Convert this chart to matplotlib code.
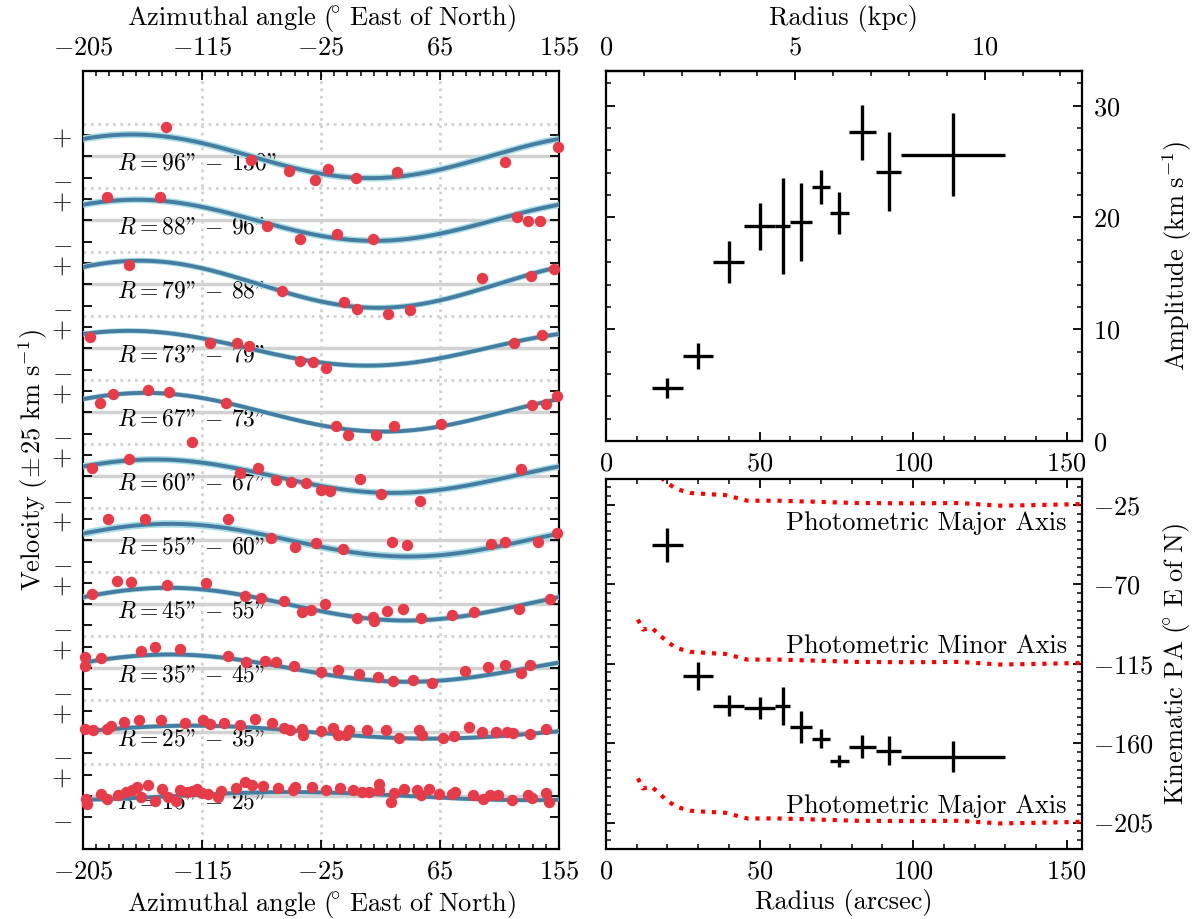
import numpy as np
import matplotlib
matplotlib.use("Agg")
import matplotlib.pyplot as plt
from matplotlib.ticker import FixedLocator, MultipleLocator

plt.rcParams["font.family"] = "serif"
plt.rcParams["font.serif"] = ["cmr10"]
plt.rcParams["mathtext.fontset"] = "cm"
plt.rcParams["axes.unicode_minus"] = False
plt.rcParams["axes.formatter.use_mathtext"] = True
plt.rcParams["font.size"] = 19

# ring bins (arcsec) and fitted harmonic parameters
ring_lo = [15, 25, 35, 45, 55, 60, 67, 73, 79, 88, 96]
ring_hi = [25, 35, 45, 55, 60, 67, 73, 79, 88, 96, 130]
radius = [20, 30, 40, 50, 57.5, 63.5, 70, 76, 83.5, 92, 113]
amp = [4.75, 7.6, 16.0, 19.2, 19.2, 19.6, 22.7, 20.4, 27.6, 24.1, 25.6]
amp_err = [0.9, 1.2, 1.9, 2.1, 4.3, 3.5, 1.5, 1.85, 2.45, 3.5, 3.7]
pa = [-47.7, -122.0, -138.8, -140.3, -138.8, -150.7, -157.5, -170.0, -162.0, -164.3, -167.7]
pa_err = [9.5, 8.2, 5.9, 6.3, 10.7, 9.0, 5.2, 3.3, 6.3, 8.3, 8.8]

# photometric major axis PA vs radius
phot_r = [10.4, 12.0, 14.9, 19.7, 22.9, 27.4, 32.5, 38.9, 46.0, 55.7, 68.5, 81.4,
          100.0, 114.8, 128.3, 139.2, 155.0]
phot_pa = [0.0, -5.7, -4.7, -12.3, -16.1, -18.3, -18.9, -19.5, -22.7, -22.7, -23.3,
           -24.0, -24.2, -24.0, -25.5, -25.2, -24.6]

# azimuthal velocity samples per ring (deg, km/s about ring systemic)
az_15_25 = [-203.0, -202.1, -191.4, -187.0, -178.9, -172.5, -168.2, -164.4, -160.9, -155.7,
            -150.8, -145.0, -140.7, -134.9, -132.0, -126.7, -122.4, -118.9, -115.1, -110.2,
            -103.0, -100.7, -89.3, -82.7, -76.9, -68.8, -57.5, -46.4, -44.4, -32.0,
            -21.2, -10.8, -0.9, 5.7, 11.5, 18.8, 18.8, 28.0, 30.4, 37.6,
            47.8, 50.7, 56.4, 64.3, 73.8, 76.2, 89.8, 97.6, 102.8, 108.6,
            119.6, 131.8, 134.7, 144.9, 147.8]
vel_15_25 = [-3.1, -9.8, 2.0, -3.1, 1.6, 4.7, 6.7, 10.6, -1.2, 12.6,
             -5.9, 7.9, -1.2, -5.9, 7.5, 4.7, 5.9, 8.3, 3.5, 2.0,
             -1.2, 5.9, 9.8, 16.5, 12.6, 11.8, 9.8, 6.7, 10.6, 10.6,
             6.7, 9.4, 6.7, 4.7, 4.7, 13.8, 6.7, -7.1, 3.5, 7.9,
             6.7, 1.6, 7.9, 2.8, 2.8, 4.7, 1.6, -3.9, 1.6, 1.6,
             -5.1, 1.6, -2.4, 3.5, -7.1]
az_25_35 = [-203.8, -197.2, -187.0, -183.6, -174.0, -162.4, -145.9, -128.2, -114.0, -108.8,
            -98.0, -86.4, -74.6, -61.8, -53.1, -48.8, -39.2, -38.6, -25.3, -16.0,
            -12.5, -5.9, -3.8, 9.5, 24.0, 34.1, 49.2, 51.2, 67.2, 75.9,
            86.9, 96.4, 107.2, 115.9, 120.2, 133.3, 144.9]
vel_25_35 = [3.1, 2.8, 3.9, 6.7, 11.8, 13.8, 13.8, 11.0, 14.6, 9.8,
             10.6, 7.9, 14.9, 11.0, 5.1, 2.8, 3.9, -2.8, 1.2, 4.7,
             -3.1, -3.9, 2.0, 2.8, 2.0, -7.1, 2.0, -3.9, -6.7, -5.1,
             5.9, 0.0, 0.0, 0.0, -1.2, -2.0, 3.9]
az_35_45 = [-203.8, -203.8, -191.4, -161.5, -150.8, -132.0, -95.1, -82.1, -67.6, -58.9,
            -45.6, -25.3, -12.5, 3.4, 18.2, 29.8, 44.3, 59.3, 84.0, 101.4,
            113.8, 126.6, 133.3]
vel_35_45 = [12.6, 2.8, 11.8, 19.7, 24.8, 22.8, 14.6, 6.7, 7.9, 6.7,
             2.8, -4.3, -2.0, -6.3, -10.2, -15.0, -14.2, -16.9, -3.9, 0.8,
             3.9, -5.9, 3.5]
az_45_55 = [-198.0, -179.2, -168.8, -141.5, -112.2, -82.7, -70.5, -52.8, -39.2, -32.8,
            -21.8, 2.0, 14.4, 15.3, 24.6, 36.7, 50.7, 73.8, 90.4, 125.1, 148.3]
vel_45_55 = [11.8, 26.8, 26.4, 22.4, 24.4, 9.8, 7.1, 3.9, -8.7, -6.7,
             0.0, -15.7, -15.0, -19.7, -7.9, -5.1, -15.7, -12.6, -8.7, -5.9, 5.9]
az_55_60 = [-186.2, -158.0, -95.7, -63.0, -45.0, -29.1, -8.2, 28.9, 39.9, 103.7,
            114.4, 139.1, 153.6]
vel_55_60 = [24.8, 24.8, 24.8, 3.1, -7.9, -2.8, -10.6, -2.0, -5.9, -4.7,
             -1.6, -1.6, 7.9]
az_60_67 = [-198.0, -170.2, -86.4, -72.5, -58.9, -47.9, -36.3, -25.3, -18.3, 4.3,
            20.2, 50.1, 126.0]
vel_60_67 = [9.8, 19.7, 4.3, 10.2, -3.9, -6.7, -7.9, -16.5, -17.7, -3.1,
             -20.5, -28.7, 8.7]
az_67_73 = [-192.2, -182.1, -156.0, -139.8, -122.7, -97.2, -13.7, -4.4, 16.7, 30.4,
            66.0, 134.7, 145.4, 153.6]
vel_67_73 = [10.6, 21.7, 25.6, 23.2, -34.6, 11.4, -15.7, -26.4, -26.4, -15.7,
             -13.8, 7.9, 9.8, 18.5]
az_73_79 = [-199.5, -109.3, -88.5, -79.8, -41.2, -31.4, -21.0, 120.8, 142.0]
vel_73_79 = [13.0, 6.3, 6.3, 3.1, -14.6, -16.5, -22.8, 6.3, 15.7]
az_79_88 = [-170.2, -54.3, -7.9, 1.9, 26.0, 42.0, 96.4, 134.1, 151.2]
vel_79_88 = [22.8, -7.5, -21.3, -29.1, -34.3, -30.3, 7.9, 10.2, 18.1]
az_88_96 = [-187.0, -147.0, -65.9, -40.7, -13.1, 14.4, 123.1, 131.8, 140.5]
vel_88_96 = [27.6, 27.6, -7.1, -22.4, -16.5, -22.4, 3.9, -0.8, -0.8]
az_96_130 = [-142.1, -78.3, -49.3, -29.9, -19.8, 1.3, 32.4, 113.8, 154.1]
vel_96_130 = [34.6, -3.9, -17.3, -28.3, -14.6, -25.6, -18.1, -6.7, 11.0]

ring_az = [az_15_25, az_25_35, az_35_45, az_45_55, az_55_60, az_60_67,
           az_67_73, az_73_79, az_79_88, az_88_96, az_96_130]
ring_vel = [vel_15_25, vel_25_35, vel_35_45, vel_45_55, vel_55_60, vel_60_67,
            vel_67_73, vel_73_79, vel_79_88, vel_88_96, vel_96_130]

spacing = 75.0
red = "#e63c49"
blue = "#457ca1"
halo = "#a9dde3"
grey = "#d2d2d2"

az_label = r"$\mathrm{Azimuthal\ angle\ (\!{}^{\circ}\ East\ of\ North)}$"

fig = plt.figure(figsize=(11.99, 9.19), dpi=100)
W, H = 1199.0, 919.0
ax = fig.add_axes([83 / W, 1 - 849 / H, 476 / W, 778 / H])
ax_amp = fig.add_axes([606 / W, 1 - 441 / H, 476 / W, 370 / H])
ax_pa = fig.add_axes([606 / W, 1 - 849 / H, 476 / W, 370 / H])

tick_kw = dict(direction="in", width=1.3, pad=8)


def style(a):
    for s in a.spines.values():
        s.set_linewidth(1.6)
    a.tick_params(which="major", length=6.5, **tick_kw)
    a.tick_params(which="minor", length=3.8, direction="in", width=1.1)


# ---- left panel: velocity vs azimuth ----
theta = np.linspace(-205, 155, 500)
yt, yl = [], []
for i in range(len(radius)):
    c = i * spacing
    ax.axhline(c, color=grey, lw=2.5, zorder=1)
    ax.axhline(c + spacing / 2, color=grey, lw=2, ls=":", zorder=1)
    model = amp[i] * np.cos(np.radians(theta - pa[i]))
    ax.plot(theta, model + c, color=halo, lw=2.8 + 0.6 * amp_err[i], zorder=3,
            solid_capstyle="butt")
    ax.plot(theta, model + c, color=blue, lw=2.8, zorder=4)
    ax.plot(ring_az[i], np.array(ring_vel[i]) + c, "o", color=red, ms=8.2,
            mec="none", zorder=5, clip_on=False)
    # cmr10 keeps the TeX layout: '"' is the closing double quote glyph
    ax.text(-179, c - 8, '$R = %s$" $-$ %s"' % (ring_lo[i], ring_hi[i]),
            fontsize=17, ha="left", va="center", zorder=2.5)
    yt += [c - 25, c, c + 25]
    yl += ["$-$", "", "$+$"]

for x in [-115, -25, 65]:
    ax.axvline(x, color=grey, lw=2, ls=":", zorder=1)

ax.set_xlim(-205, 155)
ax.set_ylim(-62, 10 * spacing + 100)
xt = [-205, -115, -25, 65, 155]
ax.xaxis.set_major_locator(FixedLocator(xt))
ax.set_xticklabels(["$%d$" % v for v in xt])
ax.xaxis.set_minor_locator(FixedLocator(np.arange(-205, 156, 10)))
ax.yaxis.set_major_locator(FixedLocator(yt))
ax.set_yticklabels(yl)
style(ax)
ax.tick_params(top=True, right=True, labeltop=True, which="both")
ax.set_xlabel(az_label)
sec = ax.secondary_xaxis("top")
sec.set_xticks([])
sec.set_xlabel(az_label, labelpad=33)
ax.set_ylabel(r"$\mathrm{Velocity\ (\pm\,25\ km\ s^{-1})}$")
ax.yaxis.set_label_coords(-0.07, 0.5)

xerr = [np.array(radius) - np.array(ring_lo), np.array(ring_hi) - np.array(radius)]

# ---- top right: amplitude ----
ax_amp.errorbar(radius, amp, xerr=xerr, yerr=amp_err, fmt="none", ecolor="black",
                elinewidth=2.4, capsize=0)
ax_amp.set_xlim(0, 155)
ax_amp.set_ylim(0, 33.1)
ax_amp.xaxis.set_major_locator(MultipleLocator(50))
ax_amp.xaxis.set_minor_locator(MultipleLocator(10))
ax_amp.yaxis.set_major_locator(MultipleLocator(10))
ax_amp.yaxis.set_minor_locator(MultipleLocator(2))
style(ax_amp)
ax_amp.tick_params(which="both", left=True, right=True, labelleft=False,
                   labelright=True, top=False)
ax_amp.yaxis.set_label_position("right")
ax_amp.set_ylabel(r"$\mathrm{Amplitude\ (km\ s^{-1})}$")
ax_amp.yaxis.set_label_coords(1.165, 0.5)
kpc = ax_amp.secondary_xaxis("top", functions=(lambda r: r / 12.33, lambda k: k * 12.33))
kpc.xaxis.set_major_locator(FixedLocator([0, 5, 10]))
kpc.xaxis.set_minor_locator(MultipleLocator(1))
kpc.tick_params(which="major", length=6.5, **tick_kw)
kpc.tick_params(which="minor", length=3.8, direction="in", width=1.1)
kpc.spines["top"].set_linewidth(1.6)
kpc.set_xlabel("Radius (kpc)", labelpad=8)

# ---- bottom right: kinematic PA ----
ax_pa.errorbar(radius, pa, xerr=xerr, yerr=pa_err, fmt="none", ecolor="black",
               elinewidth=2.4, capsize=0)
for shift in [0, -90, -180]:
    ax_pa.plot(phot_r, np.array(phot_pa) + shift, color="red", ls=":", lw=3)
ax_pa.text(150, -35.4, "Photometric Major Axis", ha="right", va="center")
ax_pa.text(150, -105.3, "Photometric Minor Axis", ha="right", va="center")
ax_pa.text(150, -195.7, "Photometric Major Axis", ha="right", va="center")
ax_pa.set_xlim(0, 155)
ax_pa.set_ylim(-220, -10.4)
ax_pa.xaxis.set_major_locator(MultipleLocator(50))
ax_pa.xaxis.set_minor_locator(MultipleLocator(10))
pt = [-205, -160, -115, -70, -25]
ax_pa.yaxis.set_major_locator(FixedLocator(pt))
ax_pa.set_yticklabels(["$%d$" % v for v in pt])
ax_pa.yaxis.set_minor_locator(MultipleLocator(5))
style(ax_pa)
ax_pa.tick_params(which="both", left=True, right=True, labelleft=False,
                  labelright=True, top=True)
ax_pa.yaxis.set_label_position("right")
ax_pa.set_ylabel(r"$\mathrm{Kinematic\ PA\ (\!{}^{\circ}\ E\ of\ N)}$")
ax_pa.yaxis.set_label_coords(1.165, 0.5)
ax_pa.set_xlabel("Radius (arcsec)")

fig.savefig("out.png", dpi=100)
